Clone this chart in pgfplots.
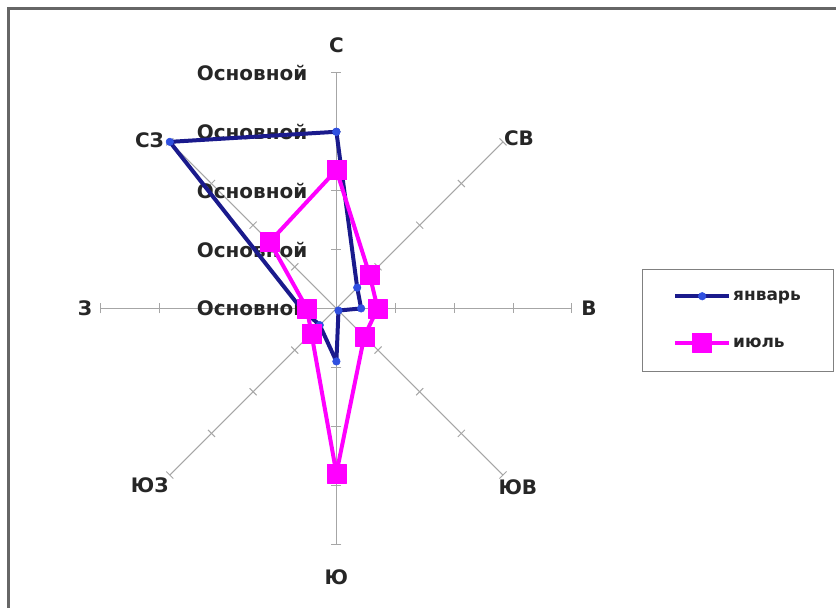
\documentclass[border=0pt]{standalone}
\usepackage{pgfplots}
\pgfplotsset{compat=1.18}
\usepgfplotslibrary{polar}
\usepackage{fontspec}
\setmainfont{DejaVu Sans}
\definecolor{jan}{HTML}{1A1A8C}
\definecolor{janm}{HTML}{3050E0}
\definecolor{jul}{HTML}{FF00FF}
\definecolor{spoke}{HTML}{A6A6A6}
\definecolor{txt}{HTML}{262626}
\begin{document}
\begin{tikzpicture}
\begin{polaraxis}[
  width=472pt, height=472pt, scale only axis,
  ymin=0, ymax=4,
  hide axis,
  clip=false,
  legend style={at={(1.148,0.474)}, anchor=west, draw=gray, line width=1.2pt,
    font=\bfseries\fontsize{17}{20}\selectfont, text=txt,
    inner xsep=31pt, inner ysep=19pt, row sep=30pt},
  legend cell align=left,
  legend image code/.code={\draw[mark repeat=2,mark phase=2] plot coordinates {(0pt,0pt) (27pt,0pt) (54pt,0pt)};},
]
\coordinate (c) at (axis cs:0,0);
\pgfplotsinvokeforeach{0,45,...,315}{
  \draw[spoke, line width=1pt] (axis cs:#1,0) -- (axis cs:#1,4);
  \draw[spoke, line width=1pt] (axis cs:#1,1) ++({#1+90}:5pt) -- ++({#1-90}:10pt);
  \draw[spoke, line width=1pt] (axis cs:#1,2) ++({#1+90}:5pt) -- ++({#1-90}:10pt);
  \draw[spoke, line width=1pt] (axis cs:#1,3) ++({#1+90}:5pt) -- ++({#1-90}:10pt);
  \draw[spoke, line width=1pt] (axis cs:#1,4) ++({#1+90}:5pt) -- ++({#1-90}:10pt);
}
\pgfplotsinvokeforeach{0,1,2,3,4}{
  \node[anchor=east, inner sep=0pt, xshift=-29pt, text=txt, font=\bfseries\fontsize{20}{24}\selectfont] at (axis cs:90,#1) {Основной};
}
\addplot[jan, line width=4pt, line join=round, mark=*, mark size=3.8pt, mark options={fill=janm, draw=janm, line width=0.5pt}]
  coordinates {(90,3.0) (45,0.5) (0,0.42) (315,0.05) (270,0.9) (225,0.4) (180,0.6) (135,4.0) (90,3.0)};
\addlegendentry{январь}
\addplot[jul, line width=4pt, line join=round, mark=square*, mark size=9.5pt, mark options={fill=jul, draw=jul, line width=0.5pt}]
  coordinates {(90,2.35) (45,0.8) (0,0.7) (315,0.67) (270,2.8) (225,0.6) (180,0.5) (135,1.6) (90,2.35)};
\addlegendentry{июль}
\begin{scope}[every node/.style={text=txt, font=\bfseries\fontsize{20}{24}\selectfont, inner sep=0pt}]
\node at (axis cs:90,4.47) {С};
\node at (axis cs:43,4.24) {СВ};
\node at (axis cs:0,4.29) {В};
\node at (axis cs:315.5,4.32) {ЮВ};
\node at (axis cs:270,4.56) {Ю};
\node at (axis cs:223.5,4.37) {ЮЗ};
\node at (axis cs:180,4.27) {З};
\node at (axis cs:138,4.27) {СЗ};
\end{scope}
\end{polaraxis}
\pgfresetboundingbox
\path (c) ++(-337pt,309pt) rectangle ++(837pt,-605pt);
\draw[gray!80!black, line width=3pt] ([shift={(-328pt,-300pt)}]c) -- ([shift={(-328pt,300pt)}]c) -- ([shift={(500pt,300pt)}]c);
\end{tikzpicture}
\end{document}
